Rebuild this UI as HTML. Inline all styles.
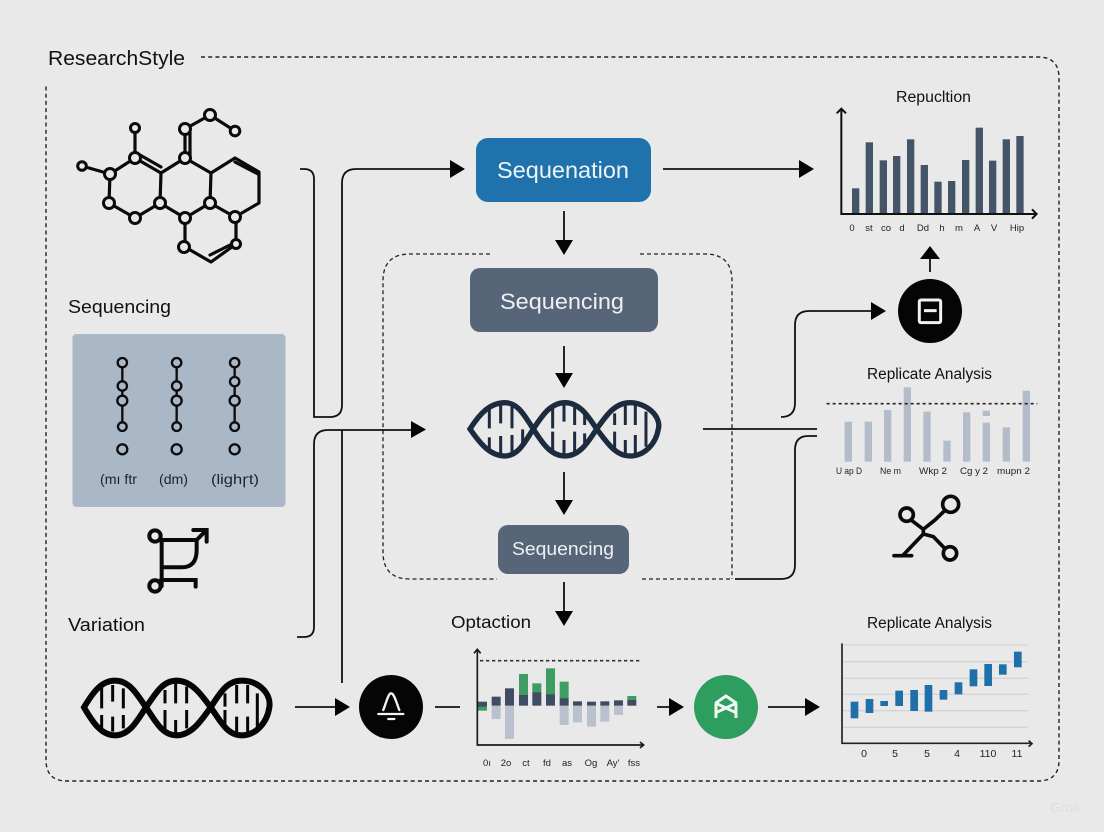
<!DOCTYPE html>
<html><head><meta charset="utf-8"><style>
html,body{margin:0;padding:0;background:#e9e9e9}
svg{display:block}
text{font-family:"Liberation Sans",sans-serif}
</style></head><body>
<svg width="1104" height="832" viewBox="0 0 1104 832" xmlns="http://www.w3.org/2000/svg">
<rect width="1104" height="832" fill="#e9e9e9"/>
<!-- frame -->
<path d="M201 57H1038Q1059 57 1059 78V760Q1059 781 1038 781H67Q46 781 46 760V85" fill="none" stroke="#222" stroke-width="1.4" stroke-dasharray="4 3.2"/>
<text x="48" y="65" font-size="20.5" fill="#111" textLength="137" lengthAdjust="spacingAndGlyphs">ResearchStyle</text>
<!-- inner dashed -->
<path d="M490 254H410Q383 254 383 281V552Q383 579 410 579H497M642 579H730M640 254H705Q732 254 732 281V579" fill="none" stroke="#222" stroke-width="1.3" stroke-dasharray="4 3"/>

<!-- molecule -->
<g fill="none" stroke="#0a0a0a" stroke-width="3.200" stroke-linejoin="round" stroke-linecap="round">
<path d="M135 128V158L110 174L82 166M110 174L109 203L135 218L160 203L161 173L135 158M161 173L185 158L211 173L210 203L185 218L160 203M185 158V129L210 115L235 131M211 173L235 158L259 172V203L235 217L210 203M185 218V247L211 262L236 244V217"/>
<path d="M140 155L161 167M235 162L258 174M210 255L232 244"/>
<path d="M190 155V132"/>
</g>
<g fill="#e9e9e9" stroke="#0a0a0a" stroke-width="3">
<circle cx="135" cy="128" r="4.500"/><circle cx="135" cy="158" r="5.500"/><circle cx="110" cy="174" r="5.500"/><circle cx="82" cy="166" r="4.300"/><circle cx="109" cy="203" r="5.500"/><circle cx="135" cy="218" r="5.500"/><circle cx="160" cy="203" r="5.500"/><circle cx="185" cy="158" r="5.500"/><circle cx="185" cy="129" r="5.500"/><circle cx="210" cy="115" r="5.500"/><circle cx="235" cy="131" r="4.800"/><circle cx="210" cy="203" r="5.500"/><circle cx="185" cy="218" r="5.500"/><circle cx="235" cy="217" r="5.500"/><circle cx="184" cy="247" r="5.500"/><circle cx="236" cy="244" r="4.500"/>
</g>

<!-- left labels + panel -->
<text x="68" y="313" font-size="18.500" fill="#111" textLength="103" lengthAdjust="spacingAndGlyphs">Sequencing</text>
<rect x="72.500" y="334" width="213" height="173" rx="4" fill="#a9b7c6"/>
<g transform="translate(60 330) scale(.3333)" fill="none" stroke="#0c0c0c" stroke-width="7">
<path d="M187 98V290M350 98V290M524 98V290"/>
<g fill="#a9b7c6"><circle cx="187" cy="98" r="14"/><circle cx="187" cy="168" r="14"/><circle cx="187" cy="212" r="15"/><circle cx="187" cy="290" r="13"/><circle cx="187" cy="358" r="15"/>
<circle cx="350" cy="98" r="14"/><circle cx="350" cy="168" r="14"/><circle cx="350" cy="212" r="15"/><circle cx="350" cy="290" r="13"/><circle cx="350" cy="358" r="15"/>
<circle cx="524" cy="98" r="14"/><circle cx="524" cy="155" r="14"/><circle cx="524" cy="212" r="15"/><circle cx="524" cy="290" r="13"/><circle cx="524" cy="358" r="15"/></g>
</g>
<g font-size="14" fill="#1c222b">
<text x="100" y="484" textLength="37" lengthAdjust="spacingAndGlyphs">(mı ftr</text>
<text x="159" y="484" textLength="29" lengthAdjust="spacingAndGlyphs">(dm)</text>
<text x="211" y="484" textLength="48" lengthAdjust="spacingAndGlyphs">(lighꞅt)</text>
</g>
<!-- routing icon -->
<g transform="translate(60 330) scale(.3333)" fill="none" stroke="#0a0a0a" stroke-width="12" stroke-linecap="round">
<circle cx="285" cy="618" r="17"/><circle cx="285" cy="768" r="17"/>
<path d="M303 630H410V660Q410 712 365 712H305M305 630V768M303 750H407V770M400 600H440V635M438 602L408 632"/>
</g>
<text x="68" y="631" font-size="18.500" fill="#111" textLength="77" lengthAdjust="spacingAndGlyphs">Variation</text>

<!-- bottom helix -->
<g transform="translate(60 660) scale(.3333)" fill="none" stroke="#050505" stroke-width="18">
<path d="M72 142C100 95 125 62 165 62C210 62 232 105 258 142C285 180 305 226 350 226C395 226 425 180 452 142C480 100 500 62 545 62C595 62 635 100 628 142C622 185 590 226 545 226C500 226 480 180 452 142C425 105 395 62 350 62C305 62 285 105 258 142C232 180 210 226 165 226C125 226 100 190 72 142Z"/>
<path stroke-width="9" d="M125 75V145M158 75V125M190 85V145M125 165V210M158 170V215M190 165V205M315 90V130M347 70V130M380 80V130M315 150V210M347 180V220M380 150V205M495 100V140M530 75V130M563 75V130M592 100V150M495 150V205M530 170V220M563 170V215M592 140V200"/>
</g>

<!-- connectors -->
<g fill="none" stroke="#111" stroke-width="1.800">
<path d="M300 169H304Q314 169 314 179V417H330Q342 417 342 405V183Q342 169 356 169H452"/>
<path d="M297 637H304Q314 637 314 627V444Q314 430 328 430H412"/>
<path d="M342 430V683"/>
<path d="M663 169H802M564 211V241M564 346V374M564 472V501M564 582V612"/>
<path d="M703 429H817M781 417Q795 417 795 403V325Q795 311 809 311H872"/>
<path d="M817 436H808Q795 436 795 450V565Q795 579 781 579H735"/>
<path d="M930 272V255M295 707H338M435 707H460M657 707H672M768 707H806"/>
</g>
<g fill="#050505">
<polygon points="450,160 465,169 450,178"/>
<polygon points="411,421 426,429.500 411,438"/>
<polygon points="799,160 814,169 799,178"/>
<polygon points="555,240 573,240 564,255"/>
<polygon points="555,373 573,373 564,388"/>
<polygon points="555,500 573,500 564,515"/>
<polygon points="555,611 573,611 564,626"/>
<polygon points="871,302 886,311 871,320"/>
<polygon points="920,259 940,259 930,246"/>
<polygon points="335,698 350,707 335,716"/>
<polygon points="669,698 684,707 669,716"/>
<polygon points="805,698 820,707 805,716"/>
</g>

<!-- center boxes -->
<rect x="476" y="138" width="175" height="64" rx="12" fill="#1f72ab"/>
<text x="563" y="178" font-size="23" fill="#eef4f8" text-anchor="middle" textLength="132" lengthAdjust="spacingAndGlyphs">Sequenation</text>
<rect x="470" y="268" width="188" height="64" rx="10" fill="#566678"/>
<text x="562" y="309" font-size="22.500" fill="#eef1f4" text-anchor="middle" textLength="124" lengthAdjust="spacingAndGlyphs">Sequencing</text>
<rect x="498" y="525" width="131" height="49" rx="10" fill="#566678"/>
<text x="563" y="555" font-size="18.500" fill="#eef1f4" text-anchor="middle" textLength="102" lengthAdjust="spacingAndGlyphs">Sequencing</text>

<!-- center helix -->
<g transform="translate(450 380) scale(.3333)" fill="none" stroke="#1d2b3e" stroke-width="16">
<path d="M60 147C90 100 120 68 165 68C205 68 225 110 250 147C275 185 300 228 345 228C390 228 415 185 440 147C470 105 495 68 540 68C590 68 635 110 625 147C618 190 585 228 540 228C495 228 470 185 440 147C415 110 390 68 345 68C300 68 275 110 250 147C225 185 205 228 165 228C120 228 90 190 60 147Z"/>
<path stroke-width="9" d="M118 85V145M152 70V130M186 75V145M118 172V212M152 168V225M186 165V225M218 148V190M308 85V145M342 70V125M374 75V135M404 100V135M308 155V215M342 180V225M374 155V220M404 160V195M494 100V135M526 75V135M556 75V135M588 95V145M494 155V210M526 180V225M556 165V225M588 145V200"/>
</g>

<!-- chart 1 -->
<text x="933.500" y="102" font-size="15.500" fill="#111" text-anchor="middle" textLength="75" lengthAdjust="spacingAndGlyphs">Repucltion</text>
<g transform="translate(820 80) scale(.3333)">
<g fill="#445569">
<rect x="96" y="325" width="22" height="77"/><rect x="137" y="187" width="22" height="215"/><rect x="179" y="241" width="22" height="161"/><rect x="219" y="228" width="22" height="174"/><rect x="261" y="178" width="22" height="224"/><rect x="302" y="255" width="22" height="147"/><rect x="343" y="305" width="22" height="97"/><rect x="384" y="303" width="22" height="99"/><rect x="426" y="240" width="22" height="162"/><rect x="467" y="143" width="22" height="259"/><rect x="507" y="242" width="22" height="160"/><rect x="548" y="178" width="22" height="224"/><rect x="589" y="168" width="22" height="234"/>
</g>
<path d="M64 90V402H648M50 100L64 86L78 100M636 388L650 402L636 416" fill="none" stroke="#111" stroke-width="6"/>
</g>
<g font-size="9.500" fill="#222" text-anchor="middle">
<text x="852" y="231">0</text><text x="869" y="231">st</text><text x="886" y="231">co</text><text x="902" y="231">d</text><text x="923" y="231">Dd</text><text x="942" y="231">h</text><text x="959" y="231">m</text><text x="977" y="231">A</text><text x="994" y="231">V</text><text x="1017" y="231">Hip</text>
</g>

<!-- black circle -->
<circle cx="930" cy="311" r="32" fill="#050505"/>
<g transform="translate(820 80) scale(.3333)" fill="none" stroke="#f2f2f2" stroke-width="9">
<rect x="298" y="660" width="64" height="68" rx="5"/><path d="M312 692H350"/>
</g>

<!-- chart 2 -->
<text x="929.500" y="379" font-size="15.500" fill="#111" text-anchor="middle" textLength="125" lengthAdjust="spacingAndGlyphs">Replicate Analysis</text>
<g transform="translate(820 360) scale(.3333)">
<g fill="#b2bdc9">
<rect x="74" y="185" width="22" height="120"/><rect x="134" y="185" width="22" height="120"/><rect x="192" y="150" width="22" height="155"/><rect x="251" y="82" width="22" height="223"/><rect x="310" y="155" width="22" height="150"/><rect x="370" y="242" width="22" height="63"/><rect x="429" y="157" width="22" height="148"/><rect x="488" y="152" width="22" height="16"/><rect x="488" y="188" width="22" height="117"/><rect x="548" y="202" width="22" height="103"/><rect x="608" y="92" width="22" height="213"/>
</g>
<path d="M20 131H652" stroke="#222" stroke-width="5" stroke-dasharray="9 9"/>
</g>
<g font-size="9.500" fill="#222">
<text x="836" y="474" textLength="26" lengthAdjust="spacingAndGlyphs">U ap D</text><text x="880" y="474" textLength="21" lengthAdjust="spacingAndGlyphs">Ne m</text><text x="919" y="474" textLength="28" lengthAdjust="spacingAndGlyphs">Wkp  2</text><text x="960" y="474" textLength="28" lengthAdjust="spacingAndGlyphs">Cg y  2</text><text x="997" y="474" textLength="33" lengthAdjust="spacingAndGlyphs">mupn  2</text>
</g>

<!-- scissors icon -->
<g transform="translate(820 360) scale(.3333)" fill="none" stroke="#0a0a0a" stroke-width="11" stroke-linecap="round">
<circle cx="392" cy="433" r="24"/><circle cx="260" cy="464" r="20"/><circle cx="390" cy="580" r="20"/>
<path d="M276 482L310 508L345 480L374 452M310 508V522L340 530L374 565M310 522L248 587M222 587H275"/>
</g>

<!-- bottom row -->
<text x="491" y="628" font-size="17.500" fill="#111" text-anchor="middle" textLength="80" lengthAdjust="spacingAndGlyphs">Optaction</text>
<circle cx="391" cy="707" r="32" fill="#050505"/>
<g transform="translate(60 660) scale(.3333)" fill="none" stroke="#f4f4f4" stroke-width="7" stroke-linecap="round">
<path d="M970 150C978 130 985 100 993 100C1003 100 1010 130 1018 150M955 162H1030M985 177H1003"/>
</g>

<!-- chart 3 -->
<g transform="translate(440 640) scale(.3333)">
<g fill="#b9c1ce">
<rect x="155" y="197" width="27" height="40"/><rect x="195" y="197" width="27" height="100"/><rect x="359" y="197" width="27" height="58"/><rect x="399" y="197" width="27" height="50"/><rect x="441" y="197" width="27" height="63"/><rect x="481" y="197" width="27" height="48"/><rect x="522" y="197" width="27" height="28"/>
</g>
<g fill="#3f9c62">
<rect x="114" y="198" width="27" height="14"/><rect x="237" y="102" width="27" height="65"/><rect x="277" y="130" width="27" height="29"/><rect x="318" y="85" width="27" height="80"/><rect x="359" y="125" width="27" height="52"/><rect x="562" y="168" width="27" height="14"/>
</g>
<g fill="#404c63">
<rect x="114" y="185" width="27" height="15"/><rect x="155" y="170" width="27" height="27"/><rect x="195" y="145" width="27" height="52"/><rect x="237" y="165" width="27" height="32"/><rect x="277" y="157" width="27" height="40"/><rect x="318" y="163" width="27" height="34"/><rect x="359" y="175" width="27" height="22"/><rect x="399" y="184" width="27" height="13"/><rect x="441" y="185" width="27" height="12"/><rect x="481" y="184" width="27" height="13"/><rect x="522" y="181" width="27" height="16"/><rect x="562" y="180" width="27" height="17"/>
</g>
<path d="M120 62H598" stroke="#333" stroke-width="5" stroke-dasharray="10 8"/>
<path d="M112 32V315H608M102 40L112 28L122 40M600 306L611 315L600 324" fill="none" stroke="#1a1a1a" stroke-width="5"/>
</g>
<g font-size="9.500" fill="#222" text-anchor="middle">
<text x="487" y="766">0ı</text><text x="506" y="766">2o</text><text x="526" y="766">ct</text><text x="547" y="766">fd</text><text x="567" y="766">as</text><text x="591" y="766">Og</text><text x="613" y="766">Ay'</text><text x="634" y="766">fss</text>
</g>

<!-- green circle -->
<circle cx="726" cy="707" r="32" fill="#2e9e5e"/>
<g transform="translate(440 640) scale(.3333)" fill="none" stroke="#f0f6f2" stroke-width="9">
<path d="M826 190L858 168L890 190M828 190V234M888 190V234M828 190L888 218M888 190L828 218"/>
</g>

<!-- chart 4 -->
<text x="929.500" y="628" font-size="15.500" fill="#111" text-anchor="middle" textLength="125" lengthAdjust="spacingAndGlyphs">Replicate Analysis</text>
<g transform="translate(830 630) scale(.3333)">
<path d="M36 45H595M36 95H595M36 145H595M36 193H595M36 242H595M36 292H595" stroke="#d4d4d4" stroke-width="4"/>
<g fill="#1f6fa8">
<rect x="62" y="215" width="23" height="50"/><rect x="107" y="207" width="23" height="42"/><rect x="151" y="213" width="23" height="15"/><rect x="196" y="182" width="23" height="46"/><rect x="241" y="180" width="23" height="63"/><rect x="284" y="165" width="23" height="80"/><rect x="329" y="180" width="23" height="29"/><rect x="374" y="157" width="23" height="36"/><rect x="419" y="118" width="23" height="51"/><rect x="463" y="102" width="23" height="66"/><rect x="507" y="103" width="23" height="31"/><rect x="552" y="65" width="23" height="47"/>
</g>
<path d="M36 40V340H603M596 332L606 341L596 350" fill="none" stroke="#222" stroke-width="5"/>
</g>
<g font-size="10.500" fill="#222" text-anchor="middle">
<text x="864" y="757">0</text><text x="895" y="757">5</text><text x="927" y="757">5</text><text x="957" y="757">4</text><text x="988" y="757">110</text><text x="1017" y="757">11</text>
</g>

<text x="1050" y="812" font-size="14" fill="#dedede">Grok</text>
</svg>
</body></html>
